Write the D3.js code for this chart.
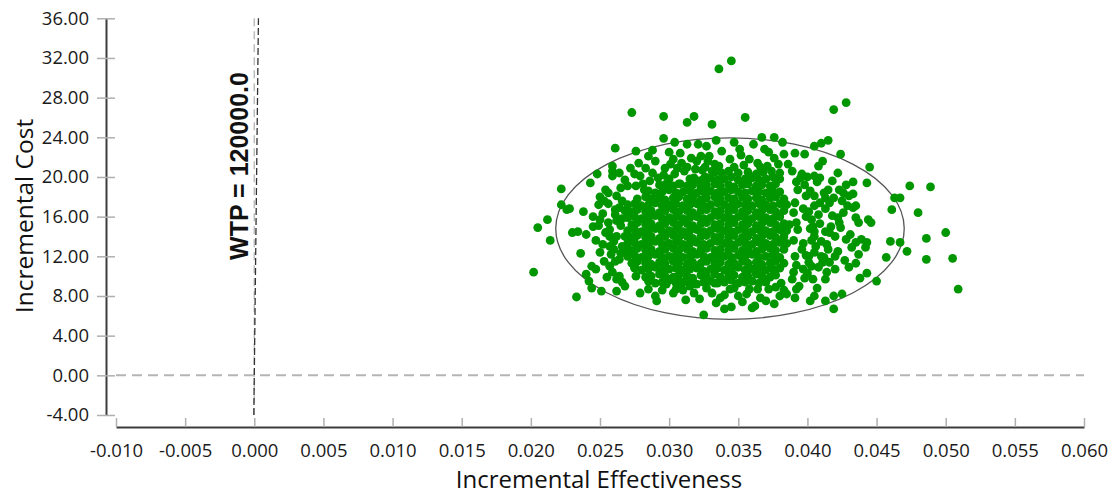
<!DOCTYPE html>
<html>
<head>
<meta charset="utf-8">
<script src="https://cdn.jsdelivr.net/npm/d3@7"></script>
<style>
  body { margin: 0; background: #fff; }
  svg { display: block; }
</style>
</head>
<body>
<div id="chart"></div>
<script>
// axis ticks
const xTicks = [-0.010, -0.005, 0.000, 0.005, 0.010, 0.015, 0.020, 0.025, 0.030, 0.035, 0.040, 0.045, 0.050, 0.055, 0.060];
const yTicks = [-4, 0, 4, 8, 12, 16, 20, 24, 28, 32, 36];

// willingness-to-pay threshold and the confidence ellipse (centre / radii, in data units)
const wtp = 120000;
const ellipseCenter = [0.0344, 14.8];
const ellipseRadii = [0.0126, 9.15];

// [incremental effectiveness, incremental cost] - scattered samples around the cloud
const outerDots = [
  [0.0336,30.9],[0.0345,31.7],[0.0428,27.5],[0.0419,26.8],[0.0273,26.5],[0.0296,26.1],[0.0313,25.5],[0.0318,26.1],[0.0331,25.3],[0.0355,26.0],
  [0.0296,23.9],[0.0304,23.5],[0.0313,23.3],[0.0321,23.3],[0.0327,23.1],[0.0334,23.7],[0.0347,23.5],[0.0351,22.8],[0.0361,23.3],[0.0367,24.0],
  [0.0369,22.8],[0.0376,24.0],[0.0382,23.5],[0.0391,22.4],[0.0398,22.3],[0.0405,23.1],[0.0410,23.4],[0.0415,23.7],[0.0424,22.3],[0.0261,22.9],
  [0.0276,22.6],[0.0288,22.7],[0.0308,22.4],[0.0316,21.9],[0.0323,22.1],[0.0329,22.1],[0.0278,21.4],[0.0283,20.9],[0.0297,20.9],[0.0301,21.3],
  [0.0309,21.4],[0.0344,21.8],[0.0358,21.8],[0.0364,21.4],[0.0376,21.9],[0.0379,21.3],[0.0386,21.3],
  [0.0259,21.1],[0.0259,20.6],[0.0259,20.1],[0.0248,20.3],[0.0243,19.4],[0.0275,20.3],[0.0286,19.6],[0.0292,19.9],[0.0270,19.1],[0.0276,19.1],
  [0.0282,18.7],[0.0304,20.3],[0.0311,20.6],[0.0319,20.8],[0.0326,21.0],[0.0331,20.6],[0.0315,19.8],[0.0322,19.6],[0.0308,19.3],[0.0299,19.5],
  [0.0326,20.0],[0.0333,21.3],[0.0320,21.6],
  [0.0264,20.4],[0.0268,19.7],[0.0272,20.9],[0.0279,20.1],[0.0281,19.3],[0.0288,20.4],[0.0290,21.6],[0.0293,19.2],[0.0296,20.2],[0.0300,19.8],
  [0.0303,21.8],[0.0306,20.9],[0.0313,21.0],[0.0318,19.9],[0.0324,20.7],[0.0328,21.6],[0.0285,22.1],[0.0300,22.5],[0.0338,22.6],[0.0352,22.2],
  [0.0372,22.5],[0.0383,22.3],
  [0.0222,18.8],[0.0254,18.7],[0.0256,18.4],[0.0226,16.7],[0.0228,16.8],[0.0222,17.2],[0.0249,17.2],[0.0256,17.3],[0.0261,16.7],[0.0261,16.2],
  [0.0212,15.7],[0.0245,16.0],[0.0205,14.9],[0.0230,14.4],[0.0234,14.5],[0.0245,15.0],[0.0249,15.1],[0.0256,15.4],[0.0257,14.7],[0.0257,14.0],
  [0.0260,13.5],[0.0260,12.7],[0.0214,13.6],[0.0247,13.6],[0.0261,11.5],[0.0244,11.0],[0.0247,10.7],[0.0257,11.0],[0.0202,10.4],[0.0240,10.2],
  [0.0255,9.9],[0.0262,9.7],[0.0244,8.8],[0.0251,8.5],[0.0262,8.5],[0.0233,7.9],[0.0262,18.1],[0.0252,16.3],[0.0254,14.4],[0.0262,14.0],
  [0.0257,13.0],[0.0264,11.7],[0.0264,10.0],[0.0265,18.9],[0.0266,17.6],[0.0264,16.9],[0.0266,15.8],[0.0265,15.1],[0.0266,13.0],[0.0265,12.3],
  [0.0250,18.0],[0.0253,17.6],[0.0250,15.7],[0.0262,15.6],[0.0252,13.2],[0.0258,12.2],[0.0250,12.4],[0.0253,11.5],[0.0259,10.4],[0.0266,9.4],
  [0.0240,14.2],[0.0238,16.5],[0.0236,12.3],[0.0242,9.5],
  [0.0268,9.0],[0.0275,11.0],[0.0276,10.0],[0.0279,8.3],[0.0285,8.7],[0.0290,8.0],[0.0291,7.5],[0.0300,9.7],[0.0307,9.3],[0.0322,7.7],
  [0.0325,6.1],[0.0331,8.3],[0.0333,9.3],[0.0340,6.7],[0.0360,6.8],[0.0362,7.0],[0.0350,8.0],[0.0356,8.2],[0.0366,7.8],[0.0372,8.7],
  [0.0380,8.0],[0.0385,8.2],[0.0391,7.8],[0.0402,7.5],[0.0405,8.0],[0.0381,9.3],[0.0389,9.7],[0.0397,10.7],[0.0403,11.0],[0.0413,7.5],
  [0.0419,6.7],[0.0419,8.0],[0.0425,8.2],[0.0298,9.2],[0.0305,8.7],[0.0315,9.0],[0.0334,7.3],[0.0337,7.8],[0.0344,8.7],[0.0358,8.7],[0.0383,8.6],
  [0.0295,8.6],[0.0303,8.3],[0.0310,8.6],[0.0318,8.3],[0.0327,8.8],[0.0340,8.1],[0.0347,8.8],[0.0353,7.4],[0.0364,8.7],[0.0370,7.5],
  [0.0377,8.9],[0.0392,8.7],[0.0312,7.6],[0.0345,6.9],[0.0376,7.2],
  [0.0408,21.1],[0.0411,21.6],[0.0405,20.1],[0.0409,19.9],[0.0422,20.4],[0.0443,19.4],[0.0445,21.0],[0.0428,19.2],[0.0433,19.5],[0.0426,18.4],
  [0.0430,18.1],[0.0415,18.7],[0.0413,17.9],[0.0416,17.4],[0.0444,15.7],[0.0446,15.4],[0.0435,15.9],[0.0437,15.4],[0.0422,15.9],[0.0423,15.4],
  [0.0417,15.0],[0.0413,14.5],[0.0416,14.4],[0.0429,17.1],[0.0433,16.9],[0.0435,17.1],[0.0439,13.7],[0.0443,13.4],[0.0442,12.9],[0.0435,13.4],
  [0.0432,12.9],[0.0422,12.5],[0.0415,12.7],[0.0410,12.0],[0.0416,11.4],[0.0420,10.7],[0.0414,10.4],[0.0413,9.7],[0.0435,11.3],[0.0438,9.8],
  [0.0443,10.3],[0.0450,9.5],[0.0457,11.9],[0.0460,13.5],[0.0467,13.4],[0.0472,12.5],[0.0461,16.7],[0.0463,17.9],[0.0467,17.9],[0.0474,19.1],
  [0.0480,16.4],[0.0400,20.0],[0.0423,18.7],[0.0409,17.4],[0.0426,16.4],[0.0404,15.0],[0.0420,14.0],[0.0428,13.7],[0.0406,13.0],[0.0401,11.4],
  [0.0411,11.4],[0.0404,9.7],[0.0394,9.0],[0.0396,20.3],[0.0393,18.7],[0.0399,18.1],[0.0405,17.1],[0.0391,17.4],[0.0403,15.7],[0.0393,14.7],
  [0.0405,14.0],[0.0396,12.7],[0.0391,12.0],[0.0405,12.4],[0.0405,18.1],[0.0405,14.5],
  [0.0389,20.6],[0.0392,19.5],[0.0390,16.4],[0.0392,15.4],[0.0390,13.6],[0.0392,11.1],[0.0390,10.4],[0.0395,19.9],[0.0398,19.2],[0.0397,16.8],
  [0.0399,16.0],[0.0397,13.3],[0.0399,12.1],[0.0398,9.8],[0.0402,18.6],[0.0401,16.5],[0.0402,14.8],[0.0403,13.6],[0.0401,12.0],[0.0400,10.3],
  [0.0407,19.5],[0.0408,16.2],[0.0409,15.3],[0.0410,13.5],[0.0408,10.9],[0.0407,8.8],[0.0412,18.4],[0.0413,16.8],[0.0414,13.2],[0.0412,11.9],
  [0.0418,19.6],[0.0419,17.9],[0.0418,16.1],[0.0420,12.0],[0.0424,14.9],[0.0425,17.6],[0.0427,11.6],[0.0431,14.2],[0.0430,10.9],[0.0433,18.3],
  [0.0437,12.2],
  [0.0489,19.0],[0.0500,14.4],[0.0486,13.8],[0.0486,11.7],[0.0505,11.8],[0.0509,8.7]
];

// the solid centre of the cloud, read row by row
const coreDots = [
  [0.0285,9.5],[0.0290,9.3],[0.0295,9.4],[0.0300,9.6],[0.0305,9.3],[0.0310,9.4],[0.0315,9.5],[0.0320,9.2],[0.0325,9.4],[0.0330,9.5],
  [0.0335,9.3],[0.0340,9.4],[0.0345,9.6],[0.0350,9.3],[0.0355,9.4],[0.0360,9.5],[0.0365,9.3],[0.0370,9.4],
  [0.0283,9.9],[0.0287,10.0],[0.0293,10.2],[0.0297,10.0],[0.0303,9.9],[0.0307,10.1],[0.0313,10.0],[0.0317,9.8],[0.0323,10.1],
  [0.0327,10.0],[0.0333,10.2],[0.0337,9.9],[0.0343,10.0],[0.0347,10.1],[0.0353,9.9],[0.0357,10.0],[0.0363,10.2],[0.0367,10.0],[0.0373,9.9],
  [0.0377,10.1],
  [0.0275,10.8],[0.0280,10.6],[0.0285,10.7],[0.0290,10.9],[0.0295,10.6],[0.0300,10.7],[0.0305,10.8],[0.0310,10.6],[0.0315,10.7],
  [0.0320,10.8],[0.0325,10.5],[0.0330,10.7],[0.0335,10.8],[0.0340,10.6],[0.0345,10.7],[0.0350,10.9],[0.0355,10.6],[0.0360,10.7],[0.0365,10.8],
  [0.0370,10.6],[0.0375,10.7],[0.0380,10.8],
  [0.0273,11.3],[0.0277,11.5],[0.0283,11.3],[0.0287,11.2],[0.0293,11.4],[0.0297,11.3],[0.0303,11.5],[0.0307,11.3],[0.0313,11.2],
  [0.0317,11.4],[0.0323,11.3],[0.0327,11.5],[0.0333,11.3],[0.0337,11.4],[0.0343,11.2],[0.0347,11.3],[0.0353,11.5],[0.0357,11.3],[0.0363,11.4],
  [0.0367,11.2],[0.0373,11.3],[0.0377,11.5],[0.0383,11.3],
  [0.0270,12.0],[0.0275,12.1],[0.0280,11.9],[0.0285,12.0],[0.0290,12.2],[0.0295,11.9],[0.0300,12.0],[0.0305,12.1],[0.0310,11.9],[0.0315,12.0],
  [0.0320,12.2],[0.0325,12.0],[0.0330,11.9],[0.0335,12.1],[0.0340,12.0],[0.0345,11.9],[0.0350,12.1],[0.0355,12.0],[0.0360,12.2],[0.0365,11.9],
  [0.0370,12.0],[0.0375,12.1],[0.0380,11.9],
  [0.0268,12.7],[0.0273,12.6],[0.0277,12.8],[0.0283,12.6],[0.0287,12.7],[0.0293,12.5],[0.0297,12.7],[0.0303,12.8],[0.0307,12.6],[0.0313,12.7],
  [0.0317,12.5],[0.0323,12.7],[0.0327,12.8],[0.0333,12.6],[0.0337,12.7],[0.0343,12.6],[0.0347,12.8],[0.0353,12.6],[0.0357,12.7],[0.0363,12.5],
  [0.0367,12.7],[0.0373,12.8],[0.0377,12.6],[0.0383,12.7],
  [0.0270,13.3],[0.0275,13.4],[0.0280,13.2],[0.0285,13.3],[0.0290,13.5],[0.0295,13.2],[0.0300,13.3],[0.0305,13.4],[0.0310,13.2],[0.0315,13.3],
  [0.0320,13.4],[0.0325,13.2],[0.0330,13.3],[0.0335,13.5],[0.0340,13.3],[0.0345,13.2],[0.0350,13.4],[0.0355,13.3],[0.0360,13.2],[0.0365,13.4],
  [0.0370,13.3],[0.0375,13.2],[0.0380,13.4],[0.0385,13.3],
  [0.0268,14.0],[0.0273,13.9],[0.0277,14.1],[0.0283,13.9],[0.0287,14.0],[0.0293,13.8],[0.0297,14.0],[0.0303,14.1],[0.0307,13.9],[0.0313,14.0],
  [0.0317,13.8],[0.0323,14.0],[0.0327,14.1],[0.0333,13.9],[0.0337,14.0],[0.0343,13.9],[0.0347,14.1],[0.0353,13.9],[0.0357,14.0],[0.0363,13.8],
  [0.0367,14.0],[0.0373,14.1],[0.0377,13.9],[0.0383,14.0],
  [0.0270,14.6],[0.0275,14.7],[0.0280,14.5],[0.0285,14.6],[0.0290,14.8],[0.0295,14.5],[0.0300,14.6],[0.0305,14.7],[0.0310,14.5],[0.0315,14.6],
  [0.0320,14.7],[0.0325,14.5],[0.0330,14.6],[0.0335,14.8],[0.0340,14.6],[0.0345,14.5],[0.0350,14.7],[0.0355,14.6],[0.0360,14.5],[0.0365,14.7],
  [0.0370,14.6],[0.0375,14.5],[0.0380,14.7],[0.0385,14.6],
  [0.0273,15.2],[0.0277,15.4],[0.0283,15.2],[0.0287,15.3],[0.0293,15.1],[0.0297,15.3],[0.0303,15.4],[0.0307,15.2],[0.0313,15.3],
  [0.0317,15.1],[0.0323,15.3],[0.0327,15.4],[0.0333,15.2],[0.0337,15.3],[0.0343,15.2],[0.0347,15.4],[0.0353,15.2],[0.0357,15.3],[0.0363,15.1],
  [0.0367,15.3],[0.0373,15.4],[0.0377,15.2],[0.0383,15.3],[0.0387,15.2],
  [0.0270,15.9],[0.0275,16.0],[0.0280,15.8],[0.0285,15.9],[0.0290,16.1],[0.0295,15.8],[0.0300,15.9],[0.0305,16.0],[0.0310,15.8],[0.0315,15.9],
  [0.0320,16.0],[0.0325,15.8],[0.0330,15.9],[0.0335,16.1],[0.0340,15.9],[0.0345,15.8],[0.0350,16.0],[0.0355,15.9],[0.0360,15.8],[0.0365,16.0],
  [0.0370,15.9],[0.0375,15.8],[0.0380,16.0],
  [0.0268,16.6],[0.0273,16.5],[0.0277,16.7],[0.0283,16.5],[0.0287,16.6],[0.0293,16.4],[0.0297,16.6],[0.0303,16.7],[0.0307,16.5],[0.0313,16.6],
  [0.0317,16.4],[0.0323,16.6],[0.0327,16.7],[0.0333,16.5],[0.0337,16.6],[0.0343,16.5],[0.0347,16.7],[0.0353,16.5],[0.0357,16.6],[0.0363,16.4],
  [0.0367,16.6],[0.0373,16.7],[0.0377,16.5],[0.0383,16.6],
  [0.0270,17.2],[0.0275,17.3],[0.0280,17.1],[0.0285,17.2],[0.0290,17.4],[0.0295,17.1],[0.0300,17.2],[0.0305,17.3],[0.0310,17.1],[0.0315,17.2],
  [0.0320,17.3],[0.0325,17.1],[0.0330,17.2],[0.0335,17.4],[0.0340,17.2],[0.0345,17.1],[0.0350,17.3],[0.0355,17.2],[0.0360,17.1],[0.0365,17.3],
  [0.0370,17.2],[0.0375,17.1],[0.0380,17.3],[0.0385,17.2],
  [0.0277,17.8],[0.0283,18.0],[0.0287,17.8],[0.0293,17.9],[0.0297,17.7],[0.0303,17.9],[0.0307,18.0],[0.0313,17.8],[0.0317,17.9],
  [0.0323,17.7],[0.0327,17.9],[0.0333,18.0],[0.0337,17.8],[0.0343,17.9],[0.0347,17.8],[0.0353,18.0],[0.0357,17.8],[0.0363,17.9],[0.0367,17.7],
  [0.0373,17.9],[0.0377,18.0],[0.0383,17.8],
  [0.0285,18.6],[0.0290,18.4],[0.0295,18.5],[0.0300,18.7],[0.0305,18.4],[0.0310,18.5],[0.0315,18.6],[0.0320,18.4],[0.0325,18.5],
  [0.0330,18.6],[0.0335,18.4],[0.0340,18.5],[0.0345,18.7],[0.0350,18.5],[0.0355,18.4],[0.0360,18.6],[0.0365,18.5],[0.0370,18.4],[0.0375,18.6],
  [0.0380,18.5],
  [0.0297,19.2],[0.0303,19.1],[0.0307,19.3],[0.0313,19.1],[0.0317,19.2],[0.0323,19.0],[0.0327,19.2],[0.0333,19.3],[0.0337,19.1],[0.0343,19.2],
  [0.0347,19.0],[0.0353,19.2],[0.0357,19.3],[0.0363,19.1],[0.0367,19.2],[0.0373,19.1],[0.0377,19.3],
  [0.0325,19.8],[0.0330,19.9],[0.0335,19.7],[0.0340,19.8],[0.0345,20.0],[0.0350,19.7],[0.0355,19.8],[0.0360,19.9],[0.0365,19.7],[0.0370,19.8],
  [0.0375,20.0],[0.0380,19.8],
  [0.0333,20.5],[0.0338,20.4],[0.0343,20.6],[0.0350,20.4],[0.0357,20.5],[0.0363,20.3],[0.0368,20.5],[0.0374,20.6],[0.0380,20.4],
  [0.0336,21.1],[0.0347,21.0],[0.0354,21.2],[0.0366,21.0],[0.0371,21.1]
];

const W = 1109, H = 496;
const font = "'Open Sans', 'Noto Sans', sans-serif";

const svg = d3.select("#chart").append("svg")
  .attr("width", W).attr("height", H)
  .attr("xmlns", "http://www.w3.org/2000/svg");

const x = d3.scaleLinear().domain([-0.010, 0.060]).range([116, 1084]);
const y = d3.scaleLinear().domain([-4, 36]).range([415, 18.3]);
const axisX = 106, axisY = 427;

// dashed zero reference lines
svg.append("line")
  .attr("x1", x(-0.010)).attr("x2", x(0.060)).attr("y1", y(0)).attr("y2", y(0))
  .attr("stroke", "#b5b5b5").attr("stroke-width", 2).attr("stroke-dasharray", "10,6");
svg.append("line")
  .attr("x1", x(0)).attr("x2", x(0)).attr("y1", y(36)).attr("y2", y(-4))
  .attr("stroke", "#bdbdbd").attr("stroke-width", 1.5).attr("stroke-dasharray", "8,5");

// x axis, ticks pointing up into the plot
const gx = svg.append("g").attr("transform", `translate(0,${axisY})`)
  .call(d3.axisBottom(x).tickValues(xTicks).tickFormat(d => d.toFixed(3))
    .tickSizeInner(-9).tickSizeOuter(0).tickPadding(17));
gx.select(".domain").attr("stroke", "#3c3c3c").attr("stroke-width", 2);
gx.selectAll(".tick line").attr("stroke", "#b0b0b0").attr("stroke-width", 1.5);
gx.selectAll(".tick text").attr("font-family", font).attr("font-size", 18.5).attr("fill", "#1a1a1a");

// y axis, ticks cross the line
const gy = svg.append("g").attr("transform", `translate(${axisX},0)`)
  .call(d3.axisLeft(y).tickValues(yTicks).tickFormat(d => d.toFixed(2))
    .tickSizeInner(9).tickSizeOuter(0).tickPadding(8));
gy.select(".domain").attr("stroke", "#3c3c3c").attr("stroke-width", 2);
gy.selectAll(".tick line").attr("x1", 9).attr("x2", -9).attr("stroke", "#b0b0b0").attr("stroke-width", 1.5);
gy.selectAll(".tick text").attr("font-family", font).attr("font-size", 18.5).attr("fill", "#1a1a1a");

// axis titles
svg.append("text").attr("x", 599).attr("y", 488).attr("text-anchor", "middle")
  .attr("font-family", font).attr("font-size", 24).attr("fill", "#111")
  .text("Incremental Effectiveness");
svg.append("text").attr("transform", "translate(33,216) rotate(-90)").attr("text-anchor", "middle")
  .attr("font-family", font).attr("font-size", 24.5).attr("fill", "#111")
  .text("Incremental Cost");

// confidence ellipse
svg.append("ellipse")
  .attr("cx", x(ellipseCenter[0])).attr("cy", y(ellipseCenter[1]))
  .attr("rx", x(ellipseCenter[0] + ellipseRadii[0]) - x(ellipseCenter[0]))
  .attr("ry", y(ellipseCenter[1] - ellipseRadii[1]) - y(ellipseCenter[1]))
  .attr("fill", "none").attr("stroke", "#555").attr("stroke-width", 1.3);

// sample points
svg.append("g").selectAll("circle")
  .data(outerDots.concat(coreDots))
  .join("circle")
  .attr("cx", d => x(d[0])).attr("cy", d => y(d[1])).attr("r", 4.4)
  .attr("fill", "#009600");

// WTP line: cost = wtp * effectiveness
svg.append("line")
  .attr("x1", x(-4 / wtp)).attr("y1", y(-4)).attr("x2", x(36 / wtp)).attr("y2", y(36))
  .attr("stroke", "#333").attr("stroke-width", 1.3).attr("stroke-dasharray", "7,3");
svg.append("text").attr("transform", "translate(248,166) rotate(-90)").attr("text-anchor", "middle")
  .attr("font-family", "'Liberation Sans', Arial, sans-serif").attr("font-weight", "bold")
  .attr("font-size", 25).attr("fill", "#111")
  .text("WTP = " + wtp.toFixed(1));
</script>
</body>
</html>
